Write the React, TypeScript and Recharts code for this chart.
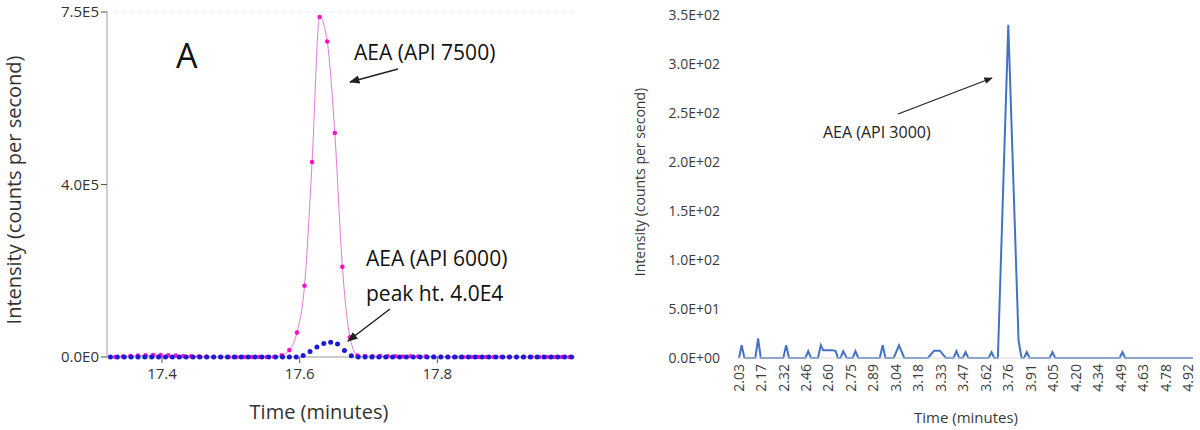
import React from "react";
import { LineChart, Line, XAxis, YAxis, ReferenceLine } from "recharts";

// left panel: API 7500 vs API 6000 (minutes, counts per second)
const pinkTime = [
  17.332, 17.343, 17.354, 17.365, 17.376, 17.387, 17.398, 17.409, 17.42, 17.431,
  17.442, 17.453, 17.464, 17.475, 17.486, 17.497, 17.508, 17.519, 17.53, 17.541,
  17.552, 17.563, 17.574, 17.585, 17.596, 17.607, 17.618, 17.629, 17.64, 17.651,
  17.662, 17.673, 17.684, 17.695, 17.706, 17.717, 17.728, 17.739, 17.75, 17.761,
  17.772, 17.783, 17.794, 17.805, 17.816, 17.827, 17.838, 17.849, 17.86, 17.871,
  17.882, 17.893, 17.904, 17.915, 17.926, 17.937, 17.948, 17.959, 17.97, 17.981,
  17.992,
];
const pinkValue = [
  0, 1000, 2000, 3000, 3500, 4000, 4000, 3500, 3000, 2000,
  1500, 1000, 500, 0, 0, 0, 0, 0, 0, 0,
  0, 0, 3500, 15000, 53000, 155000, 424000, 739000, 686000, 487000,
  196000, 43000, 3000, 2000, 1500, 2000, 1500, 1500, 1000, 1500,
  1000, 1000, 500, 500, 0, 0, 0, 0, 0, 0,
  0, 0, 0, 0, 0, 0, 0, 0, 0, 0,
  0,
];
const blueTime = [
  17.325, 17.335, 17.345, 17.355, 17.365, 17.375, 17.385, 17.395, 17.405, 17.415,
  17.425, 17.435, 17.445, 17.455, 17.465, 17.475, 17.485, 17.495, 17.505, 17.515,
  17.525, 17.535, 17.545, 17.555, 17.565, 17.575, 17.585, 17.595, 17.605, 17.615,
  17.625, 17.635, 17.645, 17.655, 17.665, 17.675, 17.685, 17.695, 17.705, 17.715,
  17.725, 17.735, 17.745, 17.755, 17.765, 17.775, 17.785, 17.795, 17.805, 17.815,
  17.825, 17.835, 17.845, 17.855, 17.865, 17.875, 17.885, 17.895, 17.905, 17.915,
  17.925, 17.935, 17.945, 17.955, 17.965, 17.975, 17.985, 17.995,
];
const blueValue = [
  0, 0, 0, 0, 0, 0, 0, 0, 0, 0,
  0, 0, 0, 0, 0, 0, 0, 0, 0, 0,
  0, 0, 0, 0, 0, 0, 0, 0, 3000, 12000,
  22000, 29300, 32000, 28500, 14000, 2500, 0, 0, 0, 0,
  0, 0, 0, 0, 0, 0, 0, 0, 0, 0,
  0, 0, 0, 0, 0, 0, 0, 0, 0, 0,
  0, 0, 0, 0, 0, 0, 0, 0,
];
const leftXTicks = [17.4, 17.6, 17.8];
const leftYTicks = [0, 375000, 750000];
const leftYLabels = ["0.0E0", "4.0E5", "7.5E5"];

// right panel: API 3000
const rightTime = [
  2.03, 2.047, 2.065, 2.135, 2.153, 2.17, 2.315, 2.333, 2.352, 2.457,
  2.475, 2.493, 2.538, 2.556, 2.572, 2.59, 2.63, 2.652, 2.666, 2.683,
  2.7, 2.723, 2.761, 2.779, 2.797, 2.935, 2.954, 2.972, 3.025, 3.059,
  3.093, 3.245, 3.285, 3.322, 3.36, 3.41, 3.428, 3.446, 3.469, 3.487,
  3.505, 3.636, 3.654, 3.672, 3.695, 3.762, 3.828, 3.847, 3.863, 3.881,
  3.899, 4.028, 4.046, 4.064, 4.478, 4.496, 4.514, 4.95,
];
const rightValue = [
  0, 13, 0, 0, 20, 0, 0, 13, 0, 0,
  7, 0, 0, 13, 8, 8, 8, 7, 0, 0,
  7, 0, 0, 7, 0, 0, 13, 0, 0, 13,
  0, 0, 7.5, 7.5, 0, 0, 7, 0, 0, 6,
  0, 0, 6, 0, 0, 340, 18, 0, 0, 6,
  0, 0, 6, 0, 0, 6, 0, 0,
];
const rightXTicks = [
  2.03, 2.17, 2.32, 2.46, 2.6, 2.75, 2.89, 3.04, 3.18, 3.33, 3.47,
  3.62, 3.76, 3.91, 4.05, 4.2, 4.34, 4.49, 4.63, 4.78, 4.92,
];
const rightYTicks = [0, 50, 100, 150, 200, 250, 300, 350];
const rightYLabels = [
  "0.0E+00", "5.0E+01", "1.0E+02", "1.5E+02", "2.0E+02", "2.5E+02", "3.0E+02", "3.5E+02",
];

const pinkData = pinkTime.map((t, i) => ({ t, v: pinkValue[i] }));
const blueData = blueTime.map((t, i) => ({ t, v: blueValue[i] }));
const rightData = rightTime.map((t, i) => ({ t, v: rightValue[i] }));

const FONT = "'Open Sans', sans-serif";

function LeftChart() {
  return (
    <LineChart
      width={600}
      height={430}
      margin={{ top: 12, right: 25, bottom: 43, left: 0 }}
      style={{ position: "absolute", left: 0, top: 0 }}
    >
      <XAxis
        type="number"
        dataKey="t"
        domain={[17.32, 18.0]}
        ticks={leftXTicks}
        tickFormatter={(v: number) => v.toFixed(1)}
        height={30}
        tickSize={6}
        tickMargin={5}
        stroke="#9a9a9a"
        tickLine={{ stroke: "#555" }}
        tick={{ fill: "#333", fontSize: 15, fontFamily: FONT }}
      />
      <YAxis
        type="number"
        domain={[0, 750000]}
        ticks={leftYTicks}
        tickFormatter={(v: number) => leftYLabels[leftYTicks.indexOf(v)]}
        width={107}
        tickSize={6}
        tickMargin={2}
        stroke="#9a9a9a"
        tickLine={{ stroke: "#555" }}
        tick={{ fill: "#333", fontSize: 15, fontFamily: FONT }}
      />
      <ReferenceLine y={750000} stroke="#cfcfcf" strokeDasharray="1 7" />
      <Line
        data={pinkData}
        dataKey="v"
        type="monotone"
        stroke="#e07ad8"
        strokeWidth={1}
        dot={{ r: 2.3, fill: "#ff10c8", stroke: "none" }}
        isAnimationActive={false}
      />
      <Line
        data={blueData}
        dataKey="v"
        type="monotone"
        stroke="none"
        dot={{ r: 2.5, fill: "#1a1ad8", stroke: "none" }}
        isAnimationActive={false}
      />
    </LineChart>
  );
}

function RotatedTick(props: any) {
  const { x, y, payload } = props;
  return (
    <text
      x={x}
      y={y}
      transform={`rotate(-90 ${x} ${y})`}
      textAnchor="end"
      dy="0.35em"
      fill="#3a3a3a"
      fontSize={14}
      fontFamily={FONT}
    >
      {payload.value.toFixed(2)}
    </text>
  );
}

function RightChart() {
  return (
    <LineChart
      width={600}
      height={430}
      margin={{ top: 15, right: 7, bottom: 32, left: 0 }}
      style={{ position: "absolute", left: 600, top: 0 }}
    >
      <XAxis
        type="number"
        dataKey="t"
        domain={[2.03, 4.95]}
        ticks={rightXTicks}
        interval={0}
        height={40}
        tickSize={0}
        tickMargin={6}
        stroke="#d9d9d9"
        tickLine={false}
        tick={<RotatedTick />}
      />
      <YAxis
        type="number"
        domain={[0, 350]}
        ticks={rightYTicks}
        interval={0}
        tickFormatter={(v: number) => rightYLabels[rightYTicks.indexOf(v)]}
        width={139}
        tickSize={0}
        tickMargin={19}
        axisLine={false}
        tickLine={false}
        tick={{ fill: "#3a3a3a", fontSize: 14, fontFamily: FONT }}
      />
      <Line
        data={rightData}
        dataKey="v"
        type="linear"
        stroke="#4472c4"
        strokeWidth={2}
        dot={false}
        isAnimationActive={false}
      />
    </LineChart>
  );
}

function Notes() {
  return (
    <svg
      width={1200}
      height={430}
      style={{ position: "absolute", left: 0, top: 0, pointerEvents: "none" }}
      fontFamily={FONT}
    >
      <defs>
        <marker id="head" viewBox="0 0 10 10" refX="9" refY="5" markerWidth="7" markerHeight="7" orient="auto">
          <path d="M0,1 L10,5 L0,9 z" fill="#222" />
        </marker>
      </defs>
      <text x={14} y={190} transform="rotate(-90 14 190)" textAnchor="middle" dy="0.35em" fontSize={20} fill="#333">
        Intensity (counts per second)
      </text>
      <text x={319} y={419} textAnchor="middle" fontSize={20} fill="#333">Time (minutes)</text>
      <text x={176} y={68} fontSize={34} fill="#111">A</text>
      <text x={354} y={60} fontSize={21} fill="#111">AEA (API 7500)</text>
      <line x1={398} y1={69} x2={350} y2={82} stroke="#222" strokeWidth={1.5} markerEnd="url(#head)" />
      <text x={366} y={266} fontSize={21} fill="#111">AEA (API 6000)</text>
      <text x={366} y={301} fontSize={21} fill="#111">peak ht. 4.0E4</text>
      <line x1={390} y1={309} x2={348} y2={341} stroke="#222" strokeWidth={1.5} markerEnd="url(#head)" />

      <text x={640} y={182} transform="rotate(-90 640 182)" textAnchor="middle" dy="0.35em" fontSize={14} fill="#3a3a3a">
        Intensity (counts per second)
      </text>
      <text x={966} y={423} textAnchor="middle" fontSize={15} fill="#3a3a3a">Time (minutes)</text>
      <text x={823} y={138} fontSize={16} fill="#222">AEA (API 3000)</text>
      <line x1={898} y1={114} x2={992} y2={78} stroke="#222" strokeWidth={1.2} markerEnd="url(#head)" />
    </svg>
  );
}

export default function App() {
  return (
    <div style={{ position: "absolute", left: 0, top: 0, width: 1200, height: 430, background: "#fff" }}>
      <LeftChart />
      <RightChart />
      <Notes />
    </div>
  );
}
